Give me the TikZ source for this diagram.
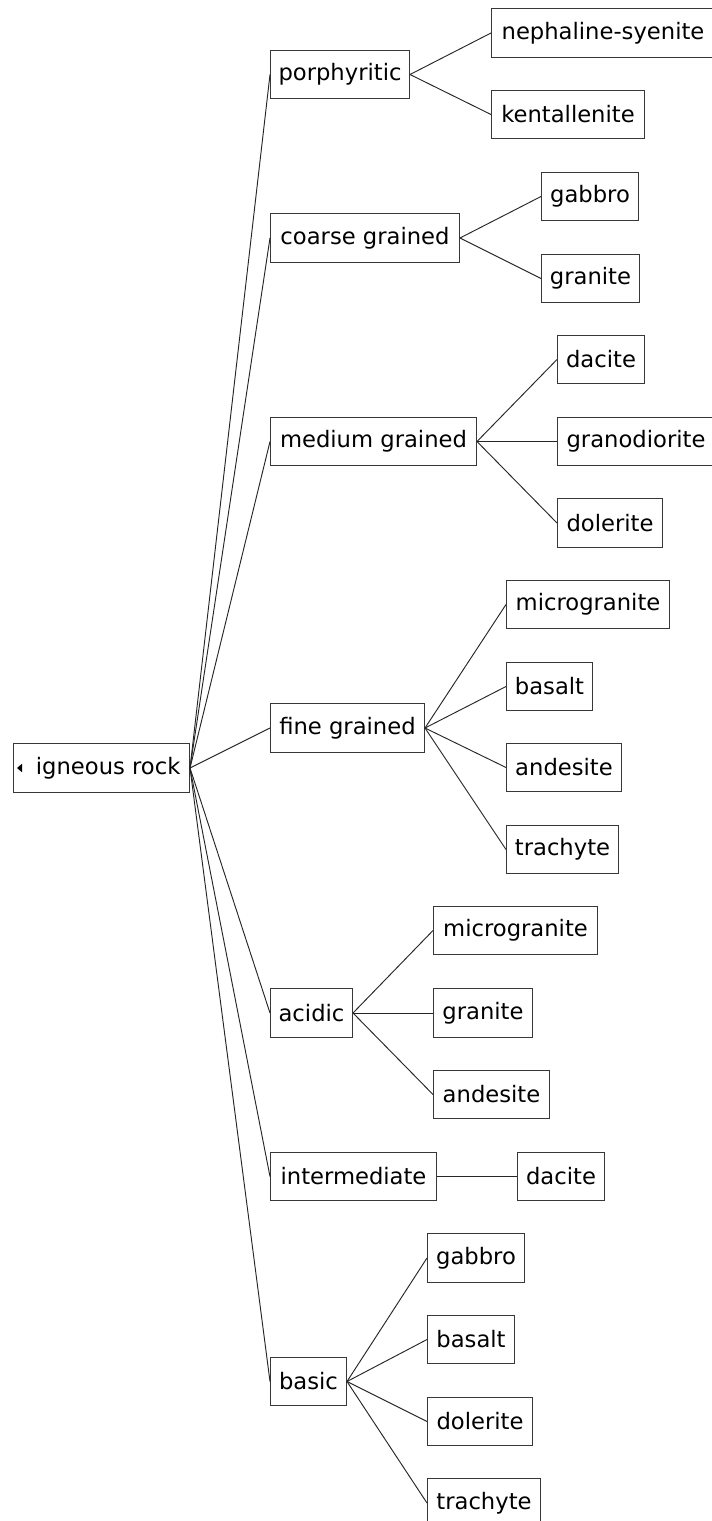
\documentclass[tikz,border=0pt]{standalone}
\usepackage{fontspec}
\setmainfont{DejaVu Sans}
\tikzset{
  rock/.style={draw=black!78, line width=0.75pt, inner sep=0pt,
    font=\fontsize{17}{20}\selectfont, text=black},
  link/.style={draw=black!85, line width=0.7pt},
}
% box: name, left, top, right, bottom (pixel grid), label
\newcommand\rockbox[6]{%
  \node[rock, anchor=north west,
        minimum width={(#4-#2)*0.75pt},
        minimum height={(#5-#3)*0.75pt}] (#1) at (#2,#3) {#6};}
\begin{document}
\begin{tikzpicture}[x=0.75pt,y=-0.75pt]
\fill[white] (0,0) rectangle (712,1521);
\useasboundingbox (0,0) rectangle (712,1521);

% root
\rockbox{root}{13}{743}{189}{792}{\hspace*{10pt}igneous rock}
\fill[black] ([xshift=3pt]root.west) -- ++(3.8pt,3.2pt) -- ++(0,-6.4pt) -- cycle;

% first level
\rockbox{por}{270}{50}{409}{98}{porphyritic}
\rockbox{coa}{270}{213}{459}{262}{coarse grained}
\rockbox{med}{270}{417}{476}{465}{medium grained}
\rockbox{fin}{270}{703}{424}{752}{fine grained}
\rockbox{aci}{270}{988}{352}{1037}{acidic}
\rockbox{int}{270}{1152}{436}{1200}{intermediate}
\rockbox{bas}{270}{1357}{346}{1405}{basic}

% second level
\rockbox{neph}{491}{8}{714}{57}{nephaline-syenite}
\rockbox{kent}{491}{90}{644}{138}{kentallenite}
\rockbox{gabA}{541}{172}{638}{220}{gabbro}
\rockbox{graA}{541}{254}{639}{302}{granite}
\rockbox{dacA}{557}{335}{644}{383}{dacite}
\rockbox{grd}{557}{417}{714}{465}{granodiorite}
\rockbox{dolA}{557}{498}{662}{547}{dolerite}
\rockbox{micA}{506}{580}{669}{628}{microgranite}
\rockbox{basA}{506}{662}{592}{710}{basalt}
\rockbox{andA}{506}{743}{621}{791}{andesite}
\rockbox{traA}{506}{825}{618}{873}{trachyte}
\rockbox{micB}{433}{906}{597}{954}{microgranite}
\rockbox{graB}{433}{988}{532}{1037}{granite}
\rockbox{andB}{433}{1070}{549}{1118}{andesite}
\rockbox{dacB}{517}{1152}{604}{1200}{dacite}
\rockbox{gabB}{427}{1233}{524}{1282}{gabbro}
\rockbox{basB}{427}{1315}{514}{1363}{basalt}
\rockbox{dolB}{427}{1397}{532}{1445}{dolerite}
\rockbox{traB}{427}{1478}{540}{1527}{trachyte}

% connectors
\foreach \c in {por,coa,med,fin,aci,int,bas}
  \draw[link] (root.east) -- (\c.west);
\foreach \c in {neph,kent} \draw[link] (por.east) -- (\c.west);
\foreach \c in {gabA,graA} \draw[link] (coa.east) -- (\c.west);
\foreach \c in {dacA,grd,dolA} \draw[link] (med.east) -- (\c.west);
\foreach \c in {micA,basA,andA,traA} \draw[link] (fin.east) -- (\c.west);
\foreach \c in {micB,graB,andB} \draw[link] (aci.east) -- (\c.west);
\draw[link] (int.east) -- (dacB.west);
\foreach \c in {gabB,basB,dolB,traB} \draw[link] (bas.east) -- (\c.west);
\end{tikzpicture}
\end{document}
